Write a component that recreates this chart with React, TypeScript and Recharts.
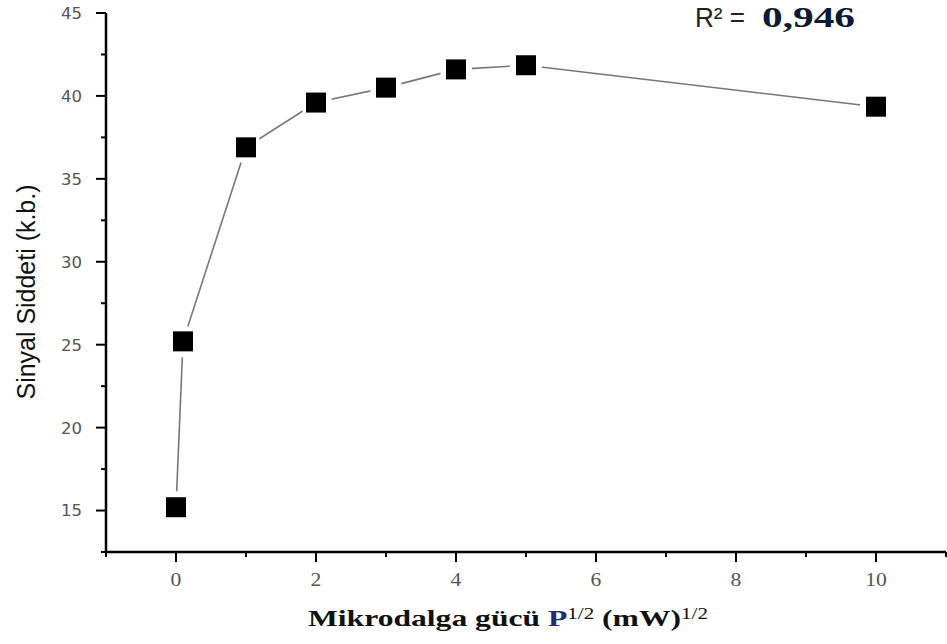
import React from 'react';
import { LineChart, Line, XAxis, YAxis, Label } from 'recharts';

// Microwave power (square root) vs. signal intensity
const powerRoot = [0, 0.1, 1, 2, 3, 4, 5, 10];
const signal = [15.2, 25.2, 36.9, 39.6, 40.5, 41.6, 41.85, 39.35];

const xTicks = [-1, 0, 1, 2, 3, 4, 5, 6, 7, 8, 9, 10, 11];
const xLabelled = [0, 2, 4, 6, 8, 10];
const yTicks = [12.5, 15, 17.5, 20, 22.5, 25, 27.5, 30, 32.5, 35, 37.5, 40, 42.5, 45];
const yLabelled = [15, 20, 25, 30, 35, 40, 45];

const rSquaredLabel = 'R² =';
const rSquaredValue = '0,946';

const data = powerRoot.map((p, i) => ({ p, s: signal[i] }));

const W = 947;
const H = 644;

const YTick = (props: any) => {
  const { x, y, payload } = props;
  const major = yLabelled.includes(payload.value);
  const len = major ? 10 : 5;
  return (
    <g>
      <line x1={x - len} x2={x} y1={y} y2={y} stroke="#000" strokeWidth={2} />
      {major && (
        <text
          x={x - 24}
          y={y}
          dy="0.36em"
          textAnchor="end"
          fontFamily="DejaVu Sans"
          fontSize={16.5}
          fill="#555"
        >
          {payload.value}
        </text>
      )}
    </g>
  );
};

const XTick = (props: any) => {
  const { x, y, payload } = props;
  const major = xLabelled.includes(payload.value);
  const len = major ? 10 : 5;
  return (
    <g>
      <line x1={x} x2={x} y1={y} y2={y + len} stroke="#000" strokeWidth={2} />
      {major && (
        <text
          transform={`translate(${x},${y + 34}) scale(1.2,1)`}
          textAnchor="middle"
          fontFamily="Liberation Serif"
          fontSize={18}
          fill="#555"
        >
          {payload.value}
        </text>
      )}
    </g>
  );
};

const SquareMarker = (props: any) => {
  const { cx, cy } = props;
  if (cx == null || cy == null) return <g />;
  return (
    <g>
      <circle cx={cx} cy={cy} r={16} fill="#fff" />
      <rect x={cx - 10} y={cy - 10} width={20} height={20} fill="#000" />
    </g>
  );
};

const XTitle = (props: any) => {
  const vb = props.viewBox || { x: 106, y: 552 };
  return (
    <text
      x={vb.x + 202}
      y={vb.y + 74}
      textLength={400}
      lengthAdjust="spacingAndGlyphs"
      fontFamily="Liberation Serif"
      fontWeight="bold"
      fontSize={24}
      fill="#111"
    >
      {'Mikrodalga gücü '}
      <tspan fill="#1d2f6e">P</tspan>
      <tspan fontSize={16} fontWeight="normal" dy={-7}>1/2</tspan>
      <tspan dy={7}>{' (mW)'}</tspan>
      <tspan fontSize={16} fontWeight="normal" dy={-7}>1/2</tspan>
    </text>
  );
};

const YTitle = (props: any) => {
  const vb = props.viewBox || { x: 0, y: 13 };
  const cx = vb.x + 35;
  const cy = vb.y + 279;
  return (
    <text
      transform={`translate(${cx},${cy}) scale(1.2,1) rotate(-90)`}
      textAnchor="middle"
      textLength={215}
      lengthAdjust="spacingAndGlyphs"
      fontFamily="Liberation Sans"
      fontSize={21}
      fill="#111"
    >
      Sinyal Siddeti (k.b.)
    </text>
  );
};

export default function App() {
  return (
    <div style={{ position: 'absolute', left: 0, top: 0, width: W, height: H, background: '#fff' }}>
      <LineChart width={W} height={H} data={data} margin={{ top: 13, right: 1, left: 0, bottom: 0 }}>
        <XAxis
          dataKey="p"
          type="number"
          domain={[-1, 11]}
          ticks={xTicks}
          interval={0}
          allowDataOverflow
          height={92}
          tickSize={0}
          tickMargin={0}
          tickLine={false}
          tick={<XTick />}
          axisLine={{ stroke: '#000', strokeWidth: 2.5 }}
        >
          <Label content={<XTitle />} />
        </XAxis>
        <YAxis
          type="number"
          domain={[12.5, 45]}
          ticks={yTicks}
          interval={0}
          allowDataOverflow
          width={106}
          tickSize={0}
          tickMargin={0}
          tickLine={false}
          tick={<YTick />}
          axisLine={{ stroke: '#000', strokeWidth: 2.5 }}
        >
          <Label content={<YTitle />} />
        </YAxis>
        <Line
          dataKey="s"
          type="linear"
          stroke="#777"
          strokeWidth={1.6}
          isAnimationActive={false}
          dot={(p: any) => <SquareMarker key={`m-${p.index}`} {...p} />}
          activeDot={false}
        />
      </LineChart>
      <svg
        width={W}
        height={H}
        style={{ position: 'absolute', left: 0, top: 0, pointerEvents: 'none' }}
      >
        <text
          x={695}
          y={27}
          textLength={50}
          lengthAdjust="spacingAndGlyphs"
          fontFamily="Liberation Sans"
          fontSize={28}
          fill="#222"
        >
          {rSquaredLabel}
        </text>
        <text
          x={762}
          y={27}
          textLength={93}
          lengthAdjust="spacingAndGlyphs"
          fontFamily="Liberation Serif"
          fontWeight="bold"
          fontSize={29}
          fill="#0d1a33"
        >
          {rSquaredValue}
        </text>
      </svg>
    </div>
  );
}
